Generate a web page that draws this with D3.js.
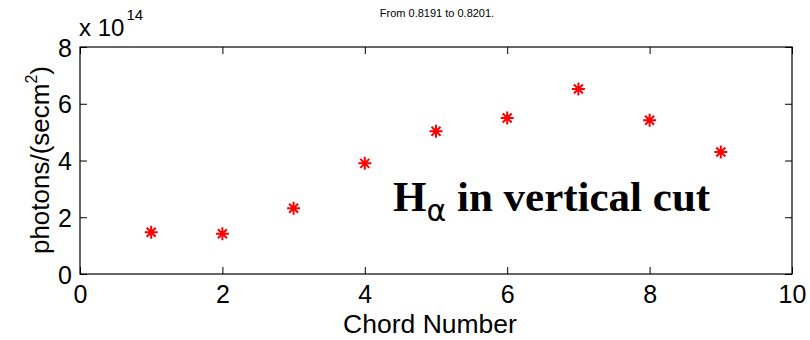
<!DOCTYPE html>
<html>
<head>
<meta charset="utf-8">
<script src="https://cdn.jsdelivr.net/npm/d3@7"></script>
<style>
  body { margin: 0; background: #fff; }
</style>
</head>
<body>
<svg id="chart" width="810" height="340" font-family="Arial, 'Liberation Sans', Helvetica, sans-serif"></svg>
<script>
// chord numbers and H-alpha brightness (x 1e14 photons/(sec cm^2))
const chords = [1, 2, 3, 4, 5, 6, 7, 8, 9];
const photons = [1.47, 1.42, 2.32, 3.9, 5.03, 5.5, 6.52, 5.42, 4.3];
const xTicks = [0, 2, 4, 6, 8, 10];
const yTicks = [0, 2, 4, 6, 8];

const svg = d3.select("#chart");
const plotL = 80, plotR = 792, plotT = 47, plotB = 274;

const x = d3.scaleLinear().domain([0, 10]).range([plotL, plotR]);
const y = d3.scaleLinear().domain([0, 8]).range([plotB, plotT]);

// box
svg.append("rect")
    .attr("x", plotL).attr("y", plotT)
    .attr("width", plotR - plotL).attr("height", plotB - plotT)
    .attr("fill", "none").attr("stroke", "#000").attr("stroke-width", 1.2);

// axes: ticks inside, labels outside
const xAxis = svg.append("g")
    .attr("transform", `translate(0,${plotB})`)
    .call(d3.axisBottom(x).tickValues(xTicks).tickSizeInner(-7).tickSizeOuter(0).tickPadding(11));
const xTop = svg.append("g")
    .attr("transform", `translate(0,${plotT})`)
    .call(d3.axisTop(x).tickValues(xTicks).tickSizeInner(-7).tickSizeOuter(0).tickFormat(""));
const yAxis = svg.append("g")
    .attr("transform", `translate(${plotL},0)`)
    .call(d3.axisLeft(y).tickValues(yTicks).tickSizeInner(-7).tickSizeOuter(0).tickPadding(8));
const yRight = svg.append("g")
    .attr("transform", `translate(${plotR},0)`)
    .call(d3.axisRight(y).tickValues(yTicks).tickSizeInner(-7).tickSizeOuter(0).tickFormat(""));

[xAxis, xTop, yAxis, yRight].forEach(g => {
  g.select(".domain").remove();
  g.selectAll("line").attr("stroke", "#000");
  g.selectAll("text").attr("fill", "#000")
    .style("font-size", "25px")
    .style("font-family", "Arial, 'Liberation Sans', sans-serif");
});
yAxis.selectAll("text").attr("dy", "0.36em");

// exponent label
const expo = svg.append("text").attr("x", 79).attr("y", 36)
    .style("font-size", "24px").attr("fill", "#000");
expo.append("tspan").text("x 10");
expo.append("tspan").style("font-size", "15px").attr("dy", -16).attr("dx", 2).text("14");

// title
svg.append("text").attr("x", 437).attr("y", 17)
    .attr("text-anchor", "middle").style("font-size", "11px").text("From 0.8191 to 0.8201.");

// axis labels
svg.append("text").attr("x", 430).attr("y", 333)
    .attr("text-anchor", "middle").style("font-size", "26.5px").text("Chord Number");

const yl = svg.append("text")
    .attr("transform", `translate(49,160) rotate(-90)`)
    .attr("text-anchor", "middle").style("font-size", "26px");
yl.append("tspan").text("photons/(secm");
yl.append("tspan").style("font-size", "16px").attr("dy", -12).text("2");
yl.append("tspan").attr("dy", 12).text(")");

// star markers
const star = "M-6.5,0L6.5,0M0,-6.5L0,6.5M-4.5,-4.5L4.5,4.5M-4.5,4.5L4.5,-4.5";
svg.append("g").selectAll("path")
  .data(chords)
  .join("path")
    .attr("transform", (d, i) => `translate(${x(d)},${y(photons[i])})`)
    .attr("d", star)
    .attr("stroke", "#ff0000").attr("stroke-width", 2).attr("fill", "none");

// annotation
const ann = svg.append("text").attr("x", 393).attr("y", 211)
    .style("font-family", "'Liberation Serif', 'Times New Roman', serif")
    .attr("font-weight", "bold").style("font-size", "43px").attr("fill", "#000");
ann.append("tspan").text("H");
ann.append("tspan").style("font-size", "30px").attr("dy", 10)
    .style("font-family", "'DejaVu Sans', sans-serif").attr("font-weight", "normal").text("α");
ann.append("tspan").attr("dy", -10).text(" in vertical cut");
</script>
</body>
</html>
